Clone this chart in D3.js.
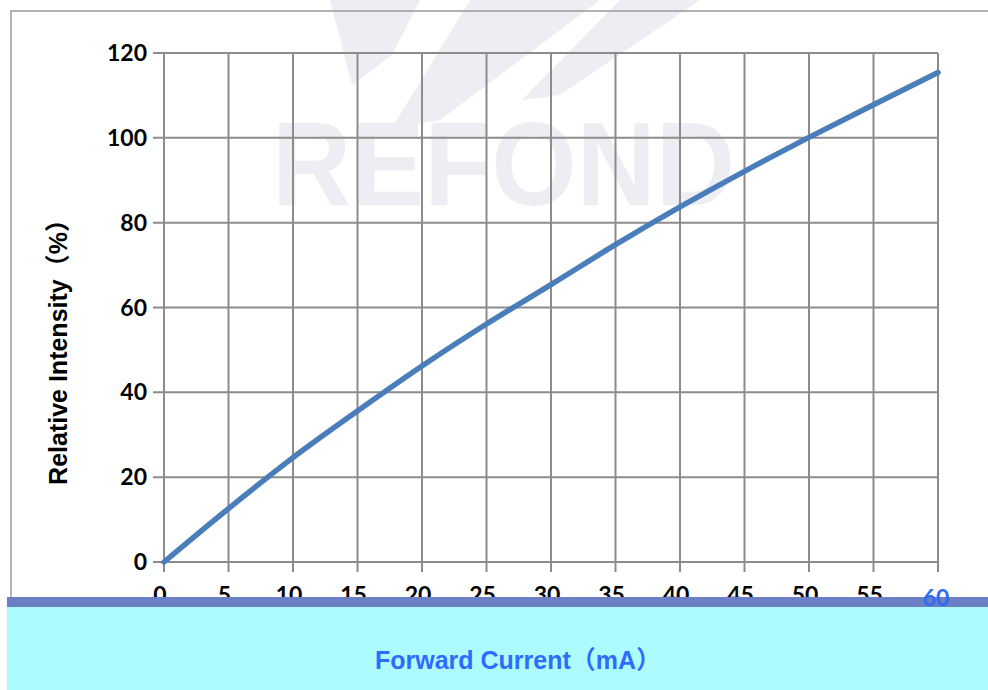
<!DOCTYPE html>
<html>
<head>
<meta charset="utf-8">
<script src="https://cdn.jsdelivr.net/npm/d3@7"></script>
<style>
  body { margin: 0; background: #fff; }
  svg { display: block; }
</style>
</head>
<body>
<div id="chart"></div>
<script>
// valores
const corriente = [0, 5, 10, 15, 20, 25, 30, 35, 40, 45, 50, 55, 60];
const intensidad = [0, 12.6, 24.6, 35.6, 46.2, 56.1, 65.4, 74.8, 83.7, 92.1, 100.1, 107.8, 115.4];
const xTicks = [0, 5, 10, 15, 20, 25, 30, 35, 40, 45, 50, 55, 60];
const yTicks = [0, 20, 40, 60, 80, 100, 120];

const width = 988, height = 690;
const plotLeft = 164, plotRight = 938, plotTop = 53, plotBottom = 562;

const svg = d3.select("#chart").append("svg")
    .attr("width", width)
    .attr("height", height);

// marca de agua
const wm = svg.append("g").attr("fill", "#eceef3");
wm.append("path").attr("d", "M330,0 L420,0 L392,55 L352,85 Z");
wm.append("path").attr("d", "M470,0 L600,0 L440,120 L392,128 Z");
wm.append("path").attr("d", "M620,0 L700,0 L560,95 L522,100 Z");
wm.append("text")
    .attr("x", 272).attr("y", 205)
    .attr("font-family", "Liberation Sans, Arial, sans-serif")
    .attr("font-weight", "bold")
    .attr("font-size", 119)
    .attr("textLength", 463)
    .attr("lengthAdjust", "spacingAndGlyphs")
    .text("REFOND");

// borde exterior
svg.append("path")
    .attr("d", "M11,597 L11,11 L988,11")
    .attr("fill", "none")
    .attr("stroke", "#9a9a9a")
    .attr("stroke-width", 1.5);

const x = d3.scaleLinear().domain([0, 60]).range([plotLeft, plotRight]);
const y = d3.scaleLinear().domain([0, 120]).range([plotBottom, plotTop]);

// rejilla
const grid = svg.append("g").attr("stroke", "#8c8c8c").attr("stroke-width", 2);
grid.selectAll(".gx").data(xTicks).enter().append("line")
    .attr("x1", d => x(d)).attr("x2", d => x(d))
    .attr("y1", y(120)).attr("y2", y(0) + 10);
grid.selectAll(".gy").data(yTicks).enter().append("line")
    .attr("x1", x(0) - 11).attr("x2", x(60))
    .attr("y1", d => y(d)).attr("y2", d => y(d));

// etiquetas eje y
svg.append("g").selectAll("text").data(yTicks).enter().append("text")
    .attr("x", 147)
    .attr("y", d => y(d) + 8)
    .attr("text-anchor", "end")
    .attr("font-family", "Lato, sans-serif")
    .attr("font-weight", "bold")
    .attr("font-size", 23)
    .attr("fill", "#000")
    .text(d => d);

// etiquetas eje x (la última va en azul encima de la banda)
svg.append("g").selectAll("text").data(xTicks.slice(0, -1)).enter().append("text")
    .attr("x", d => x(d) - 4)
    .attr("y", 603)
    .attr("text-anchor", "middle")
    .attr("font-family", "Lato, sans-serif")
    .attr("font-weight", "bold")
    .attr("font-size", 23)
    .attr("fill", "#000")
    .text(d => d);

// curva
const line = d3.line()
    .x((d, i) => x(corriente[i]))
    .y(d => y(d))
    .curve(d3.curveMonotoneX);

svg.append("path")
    .datum(intensidad)
    .attr("d", line)
    .attr("fill", "none")
    .attr("stroke", "#4a7ebb")
    .attr("stroke-width", 5.5)
    .attr("stroke-linecap", "round");

// bandas inferiores
svg.append("rect")
    .attr("x", 7).attr("y", 597)
    .attr("width", width - 7).attr("height", 10)
    .attr("fill", "#6b80c4");
svg.append("rect")
    .attr("x", 7).attr("y", 607)
    .attr("width", width - 7).attr("height", height - 607)
    .attr("fill", "#acfcfd");

svg.append("text")
    .attr("x", x(xTicks[xTicks.length - 1]) - 2)
    .attr("y", 606)
    .attr("text-anchor", "middle")
    .attr("font-family", "Lato, sans-serif")
    .attr("font-weight", "bold")
    .attr("font-size", 23)
    .attr("fill", "#2f6bf0")
    .text(xTicks[xTicks.length - 1]);

// títulos
svg.append("text")
    .attr("transform", "translate(67,346) rotate(-90)")
    .attr("text-anchor", "middle")
    .attr("font-family", "Liberation Sans, Noto Sans CJK SC, sans-serif")
    .attr("font-weight", "bold")
    .attr("font-size", 25)
    .attr("fill", "#000")
    .text("Relative Intensity（%）");

svg.append("text")
    .attr("x", 518)
    .attr("y", 669)
    .attr("text-anchor", "middle")
    .attr("font-family", "Liberation Sans, Noto Sans CJK SC, sans-serif")
    .attr("font-weight", "bold")
    .attr("font-size", 25)
    .attr("fill", "#2f6bff")
    .text("Forward Current（mA）");
</script>
</body>
</html>
